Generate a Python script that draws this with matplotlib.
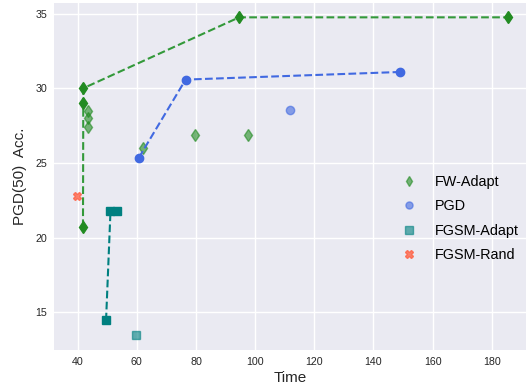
import matplotlib
matplotlib.use("Agg")
import matplotlib.pyplot as plt

# ---- data ----
fw_line_time = [41.8, 41.9, 41.9, 94.6, 185.6]
fw_line_acc = [20.7, 29.0, 30.0, 34.75, 34.75]
fw_pts_time = [43.4, 43.4, 43.4, 62.0, 79.7, 97.6]
fw_pts_acc = [28.5, 28.0, 27.4, 26.0, 26.9, 26.9]

pgd_line_time = [60.7, 76.5, 149.0]
pgd_line_acc = [25.35, 30.58, 31.09]
pgd_pts_time = [111.9]
pgd_pts_acc = [28.53]

fgsma_line_time = [49.6, 51.1, 53.4]
fgsma_line_acc = [14.45, 21.77, 21.77]
fgsma_pts_time = [59.8]
fgsma_pts_acc = [13.47]

fgsmr_time = [39.8]
fgsmr_acc = [22.8]

x_ticks = [40, 60, 80, 100, 120, 140, 160, 180]
y_ticks = [15, 20, 25, 30, 35]

plt.rcParams['font.family'] = ['Liberation Sans', 'DejaVu Sans']

fig = plt.figure(figsize=(5.26, 3.87), dpi=100)
ax = fig.add_axes([54/526, 37/387, 1 - 54/526, (350-3)/387])
ax.set_facecolor('#EAEAF2')
for s in ax.spines.values():
    s.set_visible(False)
ax.grid(True, color='white', linewidth=1.0)
ax.set_axisbelow(True)
ax.tick_params(length=0, labelsize=7.7, colors='#262626', pad=5)

# lines
ax.plot(fw_line_time, fw_line_acc, linestyle='--', color='#33993a', lw=1.5,
        marker='d', markersize=6.5, markerfacecolor='forestgreen',
        markeredgecolor='forestgreen', zorder=3)
ax.plot(pgd_line_time, pgd_line_acc, linestyle='--', color='royalblue', lw=1.5,
        marker='o', markersize=6, zorder=3)
ax.plot(fgsma_line_time, fgsma_line_acc, linestyle='--', color='teal', lw=1.5,
        marker='s', markersize=6, zorder=3)

# scatter points
ax.plot(fw_pts_time, fw_pts_acc, linestyle='none', marker='d', markersize=6.5,
        color='forestgreen', alpha=0.6, label='FW-Adapt', zorder=2)
ax.plot(pgd_pts_time, pgd_pts_acc, linestyle='none', marker='o', markersize=6,
        color='royalblue', alpha=0.6, label='PGD', zorder=2)
ax.plot(fgsma_pts_time, fgsma_pts_acc, linestyle='none', marker='s', markersize=6,
        color='teal', alpha=0.6, label='FGSM-Adapt', zorder=2)
ax.plot(fgsmr_time, fgsmr_acc, linestyle='none', marker='X', markersize=6,
        color='tomato', alpha=0.8, label='FGSM-Rand', zorder=2)

ax.set_xlim(32.0, 191.6)
ax.set_ylim(12.47, 35.71)
ax.set_xticks(x_ticks)
ax.set_yticks(y_ticks)

ax.set_xlabel('Time', fontsize=11, color='#262626', labelpad=3)
ax.set_ylabel('PGD(50)  Acc.', fontsize=11, color='#262626', labelpad=6)

ax.legend(loc='upper left', bbox_to_anchor=(396/526, 1 - 169/387),
          bbox_transform=fig.transFigure, frameon=False, fontsize=10.4,
          borderaxespad=0, handletextpad=1.3, labelspacing=0.72,
          handlelength=1.0, markerscale=0.85)

fig.savefig('out.png', dpi=100)
